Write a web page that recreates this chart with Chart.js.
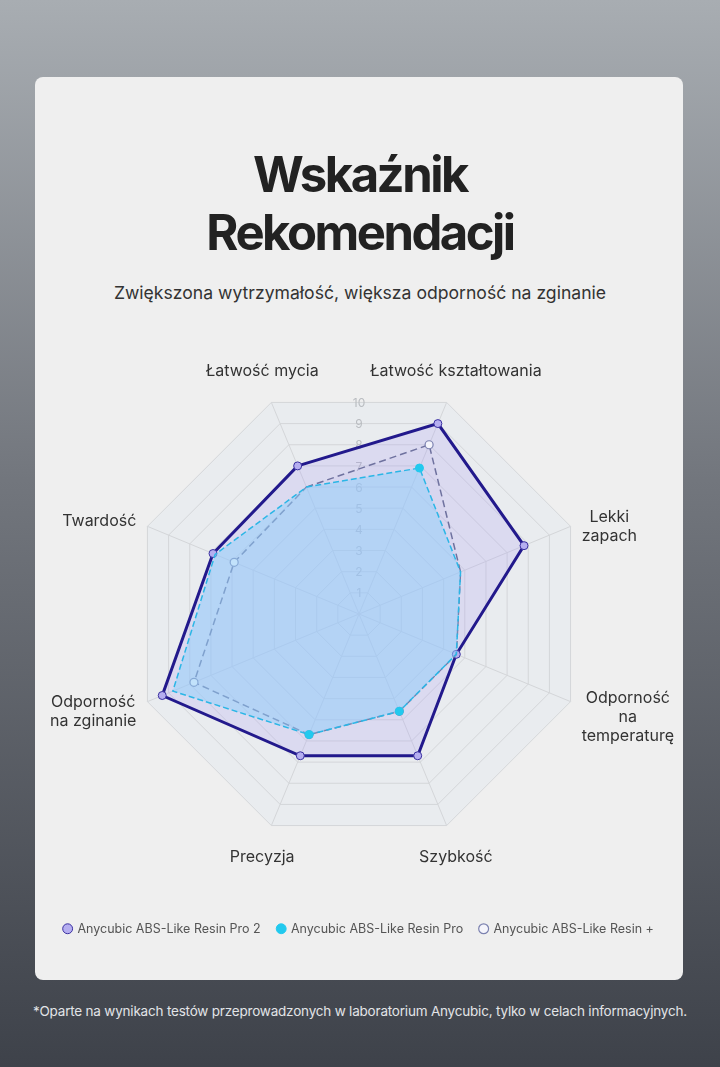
<!DOCTYPE html>
<html>
<head>
<meta charset="utf-8">
<script src="https://cdn.jsdelivr.net/npm/chart.js@4"></script>
<style>
  html, body { margin: 0; padding: 0; }
  body {
    width: 720px; height: 1067px; overflow: hidden; position: relative;
    background: linear-gradient(180deg, #a8adb2 0%, #72767d 45%, #3e424a 100%);
    font-family: "Inter", "Noto Sans", sans-serif;
  }
  .card {
    position: absolute; left: 35px; top: 77px; width: 648px; height: 903px;
    background: #efefef; border-radius: 8px;
  }
  h1 {
    position: absolute; left: 0; right: 0; top: 146px; margin: 0;
    text-align: center; font-size: 49px; line-height: 58px; font-weight: 700; color: #222;
    letter-spacing: -2.5px;
  }
  .sub {
    position: absolute; left: 0; right: 0; top: 282px; margin: 0;
    text-align: center; font-size: 17.6px; color: #333;
  }
  .chartbox { position: absolute; left: 35px; top: 340px; width: 648px; height: 605px; }
  .foot {
    position: absolute; left: 0; right: 0; top: 1003px; text-align: center;
    font-size: 13.5px; color: #e2e4e7; letter-spacing: -0.2px;
  }
</style>
</head>
<body>
<div class="card"></div>
<h1>Wskaźnik<br>Rekomendacji</h1>
<p class="sub">Zwiększona wytrzymałość, większa odporność na zginanie</p>
<div class="chartbox"><canvas id="radar"></canvas></div>
<div class="foot">*Oparte na wynikach testów przeprowadzonych w laboratorium Anycubic, tylko w celach informacyjnych.</div>
<script>
var labels = [
	['Łatwość mycia'],
	['Łatwość kształtowania'],
	['Lekki', 'zapach'],
	['Odporność', 'na', 'temperaturę'],
	['Szybkość'],
	['Precyzja'],
	['Odporność', 'na zginanie'],
	['Twardość']
];
var seriesNames = ['Anycubic ABS-Like Resin Pro 2', 'Anycubic ABS-Like Resin Pro', 'Anycubic ABS-Like Resin +'];
var pro2 = [7, 9, 7.8, 4.6, 6.7, 6.7, 9.3, 6.9];
var pro = [6, 6.9, 4.8, 4.6, 4.6, 5.7, 8.8, 6.8];
var resinPlus = [6, 8, 4.8, 4.6, 4.6, 5.7, 7.8, 5.9];
var tickValues = [1, 2, 3, 4, 5, 6, 7, 8, 9, 10];

// tick numbers sit on the flat top edge of each ring, behind the data
var tickPlugin = {
	id: 'tickText',
	beforeDatasetsDraw: function(chart) {
		var s = chart.scales.r, ctx = chart.ctx;
		ctx.save();
		ctx.font = '12px Inter, sans-serif';
		ctx.fillStyle = '#b9bcc0';
		ctx.textAlign = 'center';
		ctx.textBaseline = 'middle';
		tickValues.forEach(function(v) {
			var d = s.getDistanceFromCenterForValue(v) * Math.cos(Math.PI / 8);
			ctx.fillText(String(v), s.xCenter, s.yCenter - d + 1);
		});
		ctx.restore();
	}
};

// axis labels: top/bottom ones centered, side ones pushed out left/right
var labelPlugin = {
	id: 'axisText',
	afterDraw: function(chart) {
		var s = chart.scales.r, ctx = chart.ctx;
		var lh = 19;
		ctx.save();
		ctx.font = '16px Inter, sans-serif';
		ctx.fillStyle = '#333';
		ctx.textAlign = 'center';
		ctx.textBaseline = 'middle';
		labels.forEach(function(lines, i) {
			var w = 0;
			lines.forEach(function(t) { w = Math.max(w, ctx.measureText(t).width); });
			var h = lines.length * lh;
			var a = s.getPointPosition(i, 0).angle;
			var cx, cy, p;
			if (Math.abs(Math.sin(a)) > Math.abs(Math.cos(a))) {
				p = s.getPointPosition(i, s.drawingArea + 24);
				cx = p.x;
				cy = p.y + Math.sign(Math.sin(a)) * h / 2;
			} else {
				p = s.getPointPosition(i, s.drawingArea + 12);
				cx = p.x + Math.sign(Math.cos(a)) * w / 2;
				cy = p.y + (lines.length - 1) * 6 - 1;
			}
			lines.forEach(function(t, k) {
				ctx.fillText(t, cx, cy - h / 2 + lh / 2 + k * lh);
			});
		});
		ctx.restore();
	}
};

var ctx = document.getElementById('radar');
var radar = new Chart(ctx, {
	type: 'radar',
	data: {
		labels: labels.map(function(l) { return l.join(' '); }),
		datasets: [
			{
				label: seriesNames[0],
				data: pro2,
				order: 3,
				borderColor: '#22198c',
				borderWidth: 3,
				backgroundColor: 'rgba(170, 155, 245, 0.22)',
				fill: true,
				pointRadius: 4,
				pointBackgroundColor: '#b5aef0',
				pointBorderColor: '#3a30a0',
				pointBorderWidth: 1
			},
			{
				label: seriesNames[1],
				data: pro,
				order: 1,
				borderColor: '#2bb6e6',
				borderWidth: 1.5,
				borderDash: [6, 3],
				backgroundColor: 'rgba(143, 208, 252, 0.5)',
				fill: true,
				pointRadius: [0, 4, 0, 0, 4, 4, 0, 0],
				pointBackgroundColor: '#22c9ee',
				pointBorderColor: '#22c9ee',
				pointBorderWidth: 1
			},
			{
				label: seriesNames[2],
				data: resinPlus,
				order: 2,
				borderColor: '#6f729f',
				borderWidth: 1.5,
				borderDash: [7, 4],
				backgroundColor: 'rgba(170, 155, 245, 0.06)',
				fill: true,
				pointRadius: [0, 4, 0, 0, 4, 4, 4, 4],
				pointBackgroundColor: '#f4f4fb',
				pointBorderColor: '#7c82b0',
				pointBorderWidth: 1.2
			}
		]
	},
	options: {
		responsive: true,
		maintainAspectRatio: false,
		animation: false,
		layout: { padding: { top: 45, bottom: 0, left: 0, right: 0 } },
		scales: {
			r: {
				min: 0,
				max: 10,
				startAngle: -22.5,
				backgroundColor: '#e9ecef',
				ticks: { display: false, stepSize: 1 },
				pointLabels: { display: false },
				grid: { color: '#d4d6d9', lineWidth: 1 },
				angleLines: { color: '#d4d6d9', lineWidth: 1 }
			}
		},
		plugins: {
			tooltip: { enabled: false },
			legend: {
				position: 'bottom',
				title: { display: true, text: ' ', font: { size: 10 }, padding: { top: 50, bottom: 0 } },
				labels: {
					usePointStyle: true,
					pointStyle: 'circle',
					boxWidth: 7,
					boxHeight: 7,
					padding: 17,
					color: '#555',
					font: { size: 12.5, family: 'Inter, sans-serif' },
					sort: function(a, b) { return a.datasetIndex - b.datasetIndex; }
				}
			}
		}
	},
	plugins: [tickPlugin, labelPlugin]
});
</script>
</body>
</html>
